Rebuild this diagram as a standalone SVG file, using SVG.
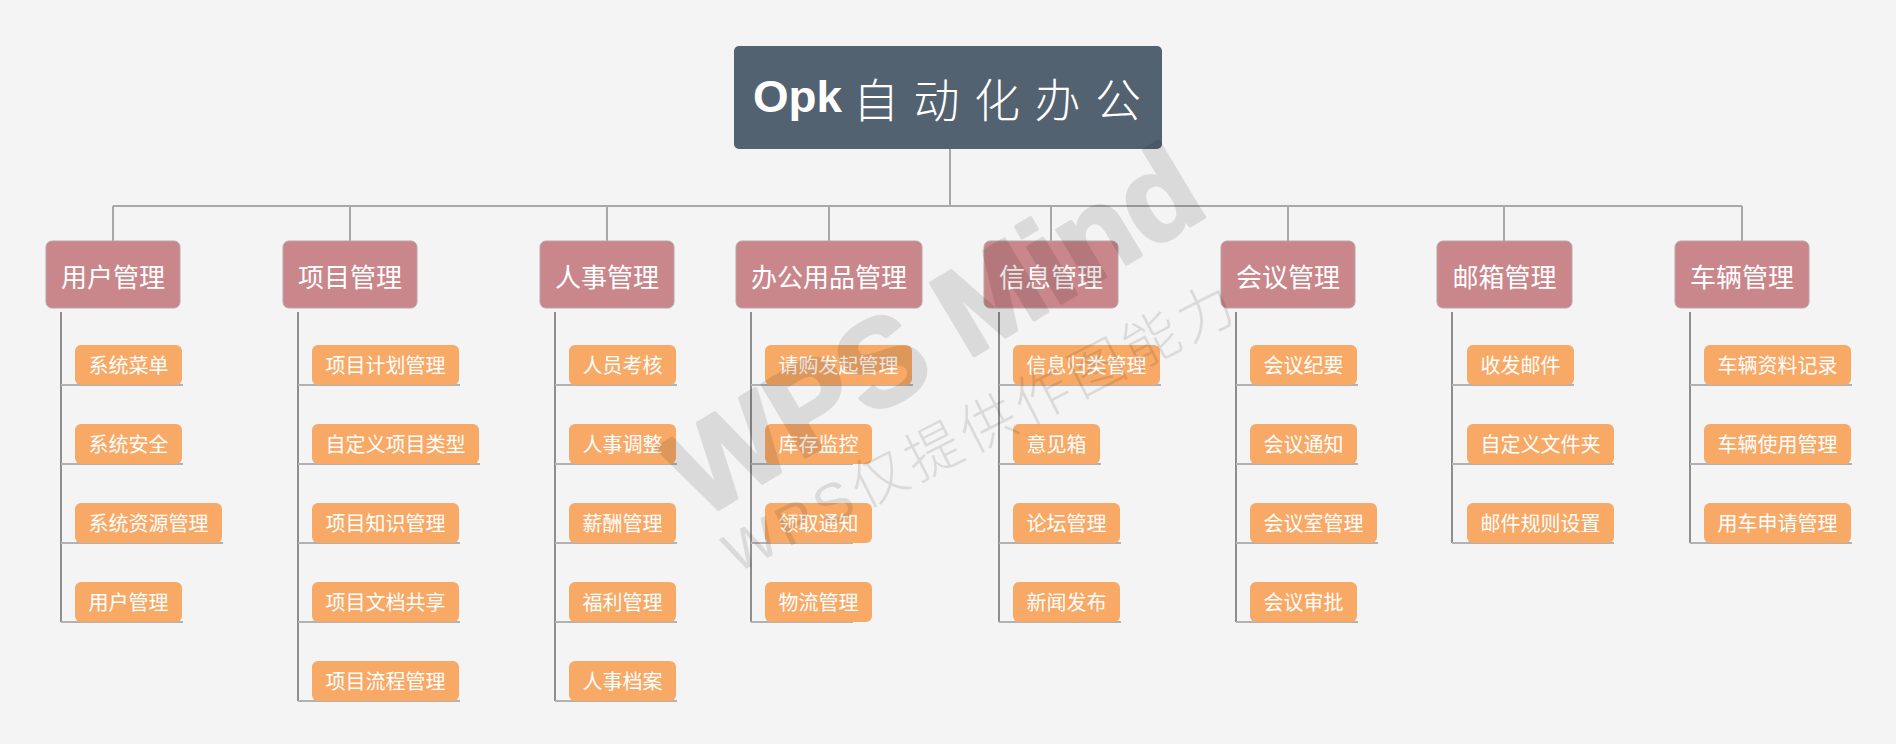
<svg xmlns="http://www.w3.org/2000/svg" width="1896" height="744" viewBox="0 0 1896 744">
<style>
.bg{fill:#f4f4f4}
.root{fill:#536271}
.l1{fill:#c9868b;stroke:#b7a6a8;stroke-width:1}
.l1t{font-family:"Noto Sans CJK SC","Noto Sans",sans-serif;font-size:26px;fill:#fff;text-anchor:middle}
.l2{fill:#f8a966}
.l2t{font-family:"Noto Sans CJK SC","Noto Sans",sans-serif;font-size:20px;fill:#fff;text-anchor:middle}
.c0{stroke:#a8a8a8;stroke-width:2;fill:none}
.cv{stroke:#8e8e8e;stroke-width:2;fill:none}
.cu{stroke:#b2b2b2;stroke-width:2;fill:none}
.wm{font-family:"Liberation Sans","Noto Sans CJK SC",sans-serif;fill:#000}
</style>
<rect class="bg" x="0" y="0" width="1896" height="744"/>
<g id="connectors">
<path class="c0" d="M950 149V206M113 206H1742M113 206V241M350 206V241M607 206V241M829 206V241M1051 206V241M1288 206V241M1504 206V241M1742 206V241"/>
<path class="cv" d="M61 312V622M298 312V701M555 312V701M751 312V622M999 312V622M1236 312V622M1452 312V543M1690 312V543"/>
<path class="cu" d="M61 385H183M61 464H183M61 543H223M61 622H183
M298 385H460M298 464H480M298 543H460M298 622H460M298 701H460
M555 385H677M555 464H677M555 543H677M555 622H677M555 701H677
M751 385H913M751 464H853M751 543H853M751 622H853
M999 385H1161M999 464H1101M999 543H1121M999 622H1121
M1236 385H1358M1236 464H1358M1236 543H1378M1236 622H1358
M1452 385H1574M1452 464H1614M1452 543H1614
M1690 385H1852M1690 464H1852M1690 543H1852"/>
</g>
<g id="root">
<rect class="root" x="734" y="46" width="428" height="103" rx="5"/>
<text x="753" y="112" font-family="Liberation Sans,Arial,sans-serif" font-weight="bold" font-size="45" fill="#fff" textLength="89" lengthAdjust="spacingAndGlyphs">Opk</text>
<text x="853" y="117" font-family="Noto Sans CJK SC,sans-serif" font-weight="300" font-size="46" fill="#fff" textLength="288" lengthAdjust="spacing">自动化办公</text>
</g>
<g id="n1"><rect class="l1" x="46" y="241" width="134" height="67" rx="6"/><text class="l1t" x="113" y="287">用户管理</text></g>
<g id="n2"><rect class="l1" x="283" y="241" width="134" height="67" rx="6"/><text class="l1t" x="350" y="287">项目管理</text></g>
<g id="n3"><rect class="l1" x="540" y="241" width="134" height="67" rx="6"/><text class="l1t" x="607" y="287">人事管理</text></g>
<g id="n4"><rect class="l1" x="736" y="241" width="186" height="67" rx="6"/><text class="l1t" x="829" y="287">办公用品管理</text></g>
<g id="n5"><rect class="l1" x="984" y="241" width="134" height="67" rx="6"/><text class="l1t" x="1051" y="287">信息管理</text></g>
<g id="n6"><rect class="l1" x="1221" y="241" width="134" height="67" rx="6"/><text class="l1t" x="1288" y="287">会议管理</text></g>
<g id="n7"><rect class="l1" x="1437" y="241" width="135" height="67" rx="6"/><text class="l1t" x="1504.5" y="287">邮箱管理</text></g>
<g id="n8"><rect class="l1" x="1675" y="241" width="134" height="67" rx="6"/><text class="l1t" x="1742" y="287">车辆管理</text></g>

<g id="n1-1"><rect class="l2" x="75" y="345" width="107" height="40" rx="6"/><text class="l2t" x="128.5" y="373">系统菜单</text></g>
<g id="n1-2"><rect class="l2" x="75" y="424" width="107" height="40" rx="6"/><text class="l2t" x="128.5" y="452">系统安全</text></g>
<g id="n1-3"><rect class="l2" x="75" y="503" width="147" height="40" rx="6"/><text class="l2t" x="148.5" y="531">系统资源管理</text></g>
<g id="n1-4"><rect class="l2" x="75" y="582" width="107" height="40" rx="6"/><text class="l2t" x="128.5" y="610">用户管理</text></g>

<g id="n2-1"><rect class="l2" x="312" y="345" width="147" height="40" rx="6"/><text class="l2t" x="385.5" y="373">项目计划管理</text></g>
<g id="n2-2"><rect class="l2" x="312" y="424" width="167" height="40" rx="6"/><text class="l2t" x="395.5" y="452">自定义项目类型</text></g>
<g id="n2-3"><rect class="l2" x="312" y="503" width="147" height="40" rx="6"/><text class="l2t" x="385.5" y="531">项目知识管理</text></g>
<g id="n2-4"><rect class="l2" x="312" y="582" width="147" height="40" rx="6"/><text class="l2t" x="385.5" y="610">项目文档共享</text></g>
<g id="n2-5"><rect class="l2" x="312" y="661" width="147" height="40" rx="6"/><text class="l2t" x="385.5" y="689">项目流程管理</text></g>

<g id="n3-1"><rect class="l2" x="569" y="345" width="107" height="40" rx="6"/><text class="l2t" x="622.5" y="373">人员考核</text></g>
<g id="n3-2"><rect class="l2" x="569" y="424" width="107" height="40" rx="6"/><text class="l2t" x="622.5" y="452">人事调整</text></g>
<g id="n3-3"><rect class="l2" x="569" y="503" width="107" height="40" rx="6"/><text class="l2t" x="622.5" y="531">薪酬管理</text></g>
<g id="n3-4"><rect class="l2" x="569" y="582" width="107" height="40" rx="6"/><text class="l2t" x="622.5" y="610">福利管理</text></g>
<g id="n3-5"><rect class="l2" x="569" y="661" width="107" height="40" rx="6"/><text class="l2t" x="622.5" y="689">人事档案</text></g>

<g id="n4-1"><rect class="l2" x="765" y="345" width="147" height="40" rx="6"/><text class="l2t" x="838.5" y="373">请购发起管理</text></g>
<g id="n4-2"><rect class="l2" x="765" y="424" width="107" height="40" rx="6"/><text class="l2t" x="818.5" y="452">库存监控</text></g>
<g id="n4-3"><rect class="l2" x="765" y="503" width="107" height="40" rx="6"/><text class="l2t" x="818.5" y="531">领取通知</text></g>
<g id="n4-4"><rect class="l2" x="765" y="582" width="107" height="40" rx="6"/><text class="l2t" x="818.5" y="610">物流管理</text></g>

<g id="n5-1"><rect class="l2" x="1013" y="345" width="147" height="40" rx="6"/><text class="l2t" x="1086.5" y="373">信息归类管理</text></g>
<g id="n5-2"><rect class="l2" x="1013" y="424" width="87" height="40" rx="6"/><text class="l2t" x="1056.5" y="452">意见箱</text></g>
<g id="n5-3"><rect class="l2" x="1013" y="503" width="107" height="40" rx="6"/><text class="l2t" x="1066.5" y="531">论坛管理</text></g>
<g id="n5-4"><rect class="l2" x="1013" y="582" width="107" height="40" rx="6"/><text class="l2t" x="1066.5" y="610">新闻发布</text></g>

<g id="n6-1"><rect class="l2" x="1250" y="345" width="107" height="40" rx="6"/><text class="l2t" x="1303.5" y="373">会议纪要</text></g>
<g id="n6-2"><rect class="l2" x="1250" y="424" width="107" height="40" rx="6"/><text class="l2t" x="1303.5" y="452">会议通知</text></g>
<g id="n6-3"><rect class="l2" x="1250" y="503" width="127" height="40" rx="6"/><text class="l2t" x="1313.5" y="531">会议室管理</text></g>
<g id="n6-4"><rect class="l2" x="1250" y="582" width="107" height="40" rx="6"/><text class="l2t" x="1303.5" y="610">会议审批</text></g>

<g id="n7-1"><rect class="l2" x="1467" y="345" width="107" height="40" rx="6"/><text class="l2t" x="1520.5" y="373">收发邮件</text></g>
<g id="n7-2"><rect class="l2" x="1467" y="424" width="147" height="40" rx="6"/><text class="l2t" x="1540.5" y="452">自定义文件夹</text></g>
<g id="n7-3"><rect class="l2" x="1467" y="503" width="147" height="40" rx="6"/><text class="l2t" x="1540.5" y="531">邮件规则设置</text></g>

<g id="n8-1"><rect class="l2" x="1704" y="345" width="147" height="40" rx="6"/><text class="l2t" x="1777.5" y="373">车辆资料记录</text></g>
<g id="n8-2"><rect class="l2" x="1704" y="424" width="147" height="40" rx="6"/><text class="l2t" x="1777.5" y="452">车辆使用管理</text></g>
<g id="n8-3"><rect class="l2" x="1704" y="503" width="147" height="40" rx="6"/><text class="l2t" x="1777.5" y="531">用车申请管理</text></g>

<g id="watermark" opacity="0.1">
<text class="wm" transform="translate(700,520) rotate(-31)" font-size="122" font-weight="bold" stroke="#000" stroke-width="4" stroke-linejoin="round">WPS Mind</text>
<text class="wm" transform="translate(736,574) rotate(-27)" font-size="56" font-weight="300" font-family="Noto Sans CJK SC,sans-serif" textLength="565" lengthAdjust="spacing">WPS仅提供作图能力</text>
</g>
</svg>
